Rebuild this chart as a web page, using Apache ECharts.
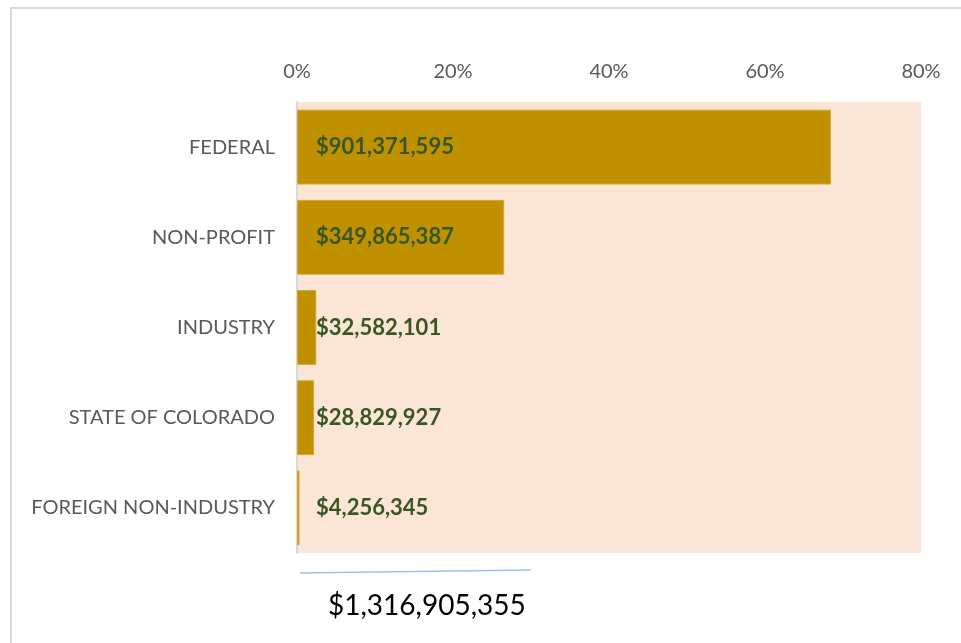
<!DOCTYPE html>
<html>
<head>
<meta charset="utf-8">
<script src="https://cdn.jsdelivr.net/npm/echarts@6/dist/echarts.min.js"></script>
<style>
html,body{margin:0;padding:0;background:#fff;}
#chart{width:961px;height:643px;}
</style>
</head>
<body>
<div id="chart"></div>
<script>
const categories = ['FEDERAL', 'NON-PROFIT', 'INDUSTRY', 'STATE OF COLORADO', 'FOREIGN NON-INDUSTRY'];
const sharePct = [68.45, 26.57, 2.47, 2.19, 0.32];
const amountLabels = ['$901,371,595', '$349,865,387', '$32,582,101', '$28,829,927', '$4,256,345'];
const totalLabel = '$1,316,905,355';
const xTicks = [0, 20, 40, 60, 80];

const FONT = 'Lato, "Open Sans", sans-serif';
const chart = echarts.init(document.getElementById('chart'), null, {renderer: 'canvas'});
chart.setOption({
  backgroundColor: '#ffffff',
  animation: false,
  grid: {
    left: 297, right: 40, top: 102, bottom: 90,
    show: true, backgroundColor: '#FBE5D6', borderWidth: 0
  },
  xAxis: {
    type: 'value', position: 'top',
    min: xTicks[0], max: xTicks[xTicks.length - 1], interval: 20,
    axisLine: {show: false}, axisTick: {show: false}, splitLine: {show: false},
    axisLabel: {formatter: '{value}%', color: '#595959', fontSize: 20, fontFamily: FONT, margin: 20}
  },
  yAxis: {
    type: 'category', inverse: true, data: categories,
    axisLine: {show: true, lineStyle: {color: '#D9D9D9', width: 2}},
    axisTick: {show: false},
    axisLabel: {color: '#595959', fontSize: 20, fontFamily: FONT, margin: 22}
  },
  series: [{
    type: 'bar',
    data: sharePct,
    barCategoryGap: '17%',
    itemStyle: {color: '#BF9000', borderColor: '#D4A933', borderWidth: 1},
    label: {
      show: true, position: 'insideLeft', distance: 19,
      formatter: p => amountLabels[p.dataIndex],
      color: '#375623', fontWeight: 'bold', fontSize: 22, fontFamily: FONT
    }
  }],
  graphic: [
    {type: 'rect', shape: {x: 11, y: 8, width: 1000, height: 700},
     style: {fill: 'none', stroke: '#D9D9D9', lineWidth: 2}, silent: true},
    {type: 'line', shape: {x1: 300, y1: 573, x2: 531, y2: 570},
     style: {stroke: '#9DC3E6', lineWidth: 1.5}, silent: true},
    {type: 'text', left: 328, top: 592,
     style: {text: totalLabel, fill: '#000000', fontSize: 28, fontFamily: FONT}}
  ]
});
</script>
</body>
</html>
